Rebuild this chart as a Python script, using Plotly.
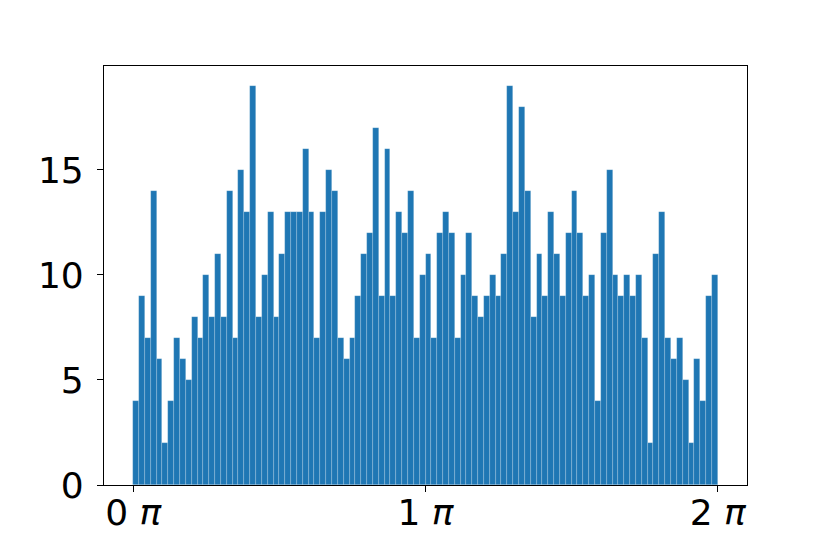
import numpy as np
import plotly.graph_objects as go

# counts per bin, 100 bins spanning 0..2*pi
counts = [
    4, 9, 7, 14, 6, 2, 4, 7, 6, 5,
    8, 7, 10, 8, 11, 8, 14, 7, 15, 13,
    19, 8, 10, 13, 8, 11, 13, 13, 13, 16,
    13, 7, 13, 15, 14, 7, 6, 7, 9, 11,
    12, 17, 9, 16, 9, 13, 12, 14, 7, 10,
    11, 7, 12, 13, 12, 7, 10, 12, 9, 8,
    9, 10, 9, 11, 19, 13, 18, 14, 8, 11,
    9, 13, 11, 9, 12, 14, 12, 9, 10, 4,
    12, 15, 10, 9, 10, 9, 10, 7, 2, 11,
    13, 7, 6, 7, 5, 2, 6, 4, 9, 10,
]
n_bins = len(counts)
tick_vals = [0, np.pi, 2 * np.pi]
tick_text = ["0 <i>π</i>", "1 <i>π</i>", "2 <i>π</i>"]

edges = np.linspace(0, 2 * np.pi, n_bins + 1)
centers = (edges[:-1] + edges[1:]) / 2
width = edges[1] - edges[0]

fig = go.Figure()
fig.add_trace(go.Bar(
    x=centers, y=counts, width=width,
    marker=dict(color="#1f77b4", line=dict(color="rgba(255,255,255,0.3)", width=0.6)),
))

axis_style = dict(
    showgrid=False, zeroline=False,
    showline=True, linecolor="black", linewidth=1.2, mirror=True,
    ticks="outside", ticklen=6, tickwidth=1.2, tickcolor="black",
    tickfont=dict(family="DejaVu Sans", size=36, color="black"),
)

fig.update_layout(
    width=830, height=554,
    margin=dict(l=96, r=91, t=58, b=77, autoexpand=False),
    plot_bgcolor="white", paper_bgcolor="white",
    bargap=0, showlegend=False,
    xaxis=dict(range=[-0.1 * np.pi, 2.1 * np.pi], tickvals=tick_vals, ticktext=tick_text,
               ticklabelstandoff=-10, **axis_style),
    yaxis=dict(range=[0, 19.95], tickvals=[0, 5, 10, 15], ticklabelstandoff=6, **axis_style),
)

fig.write_html("out.html")
